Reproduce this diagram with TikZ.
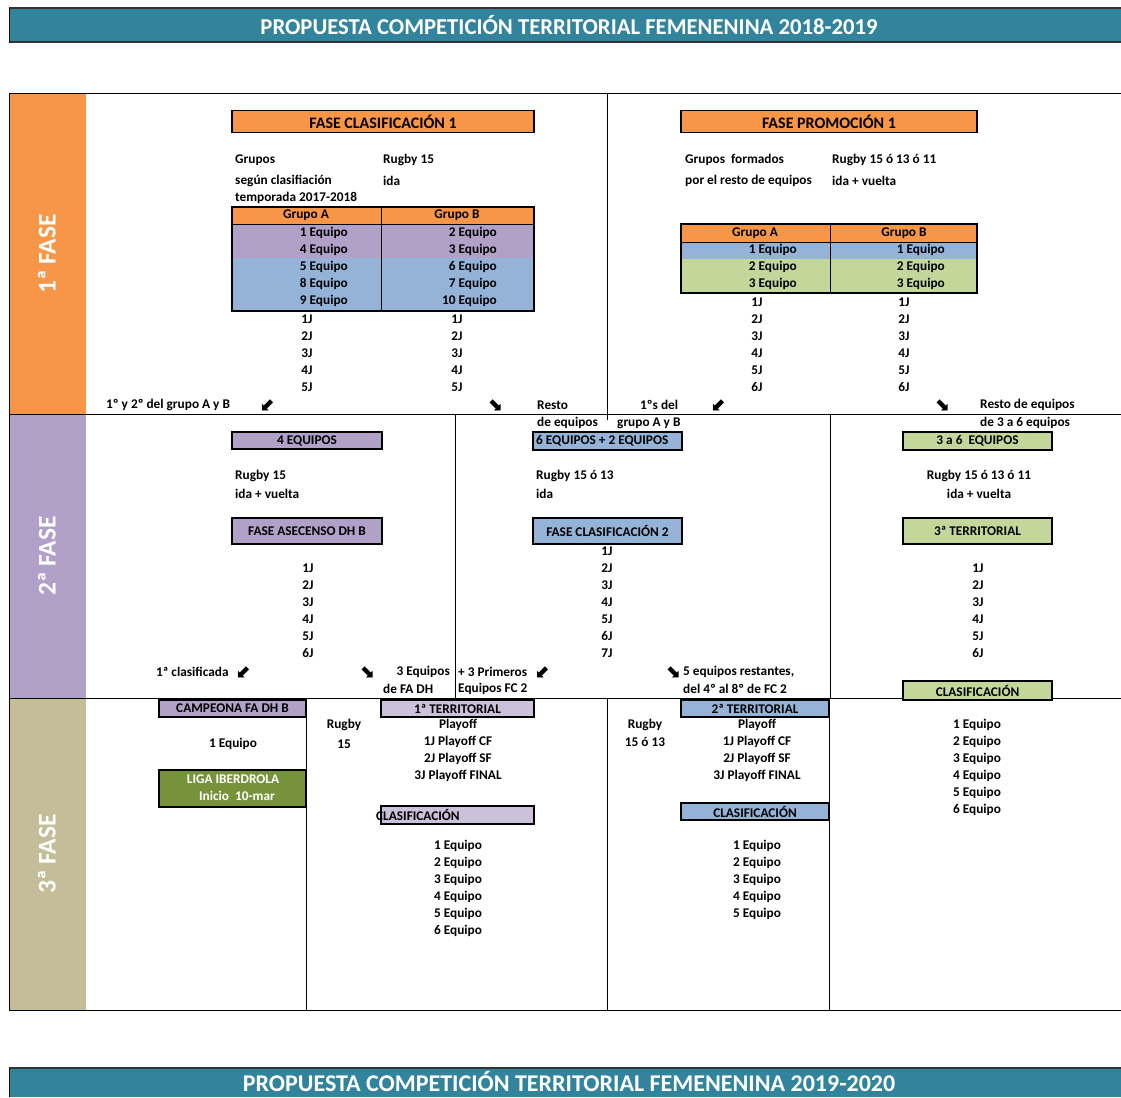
\documentclass[tikz,border=0pt]{standalone}
\usepackage{fontspec}
\setmainfont{Carlito}
\newfontfamily\arrowfont{DejaVu Sans}
\usetikzlibrary{positioning}

\definecolor{titteal}{HTML}{31849B}
\definecolor{naranja}{HTML}{F79646}
\definecolor{morado}{HTML}{B1A0C7}
\definecolor{lila}{HTML}{CCC0DA}
\definecolor{azul}{HTML}{95B3D7}
\definecolor{verde}{HTML}{C4D79B}
\definecolor{oliva}{HTML}{76933C}
\definecolor{tostado}{HTML}{C4BD97}

\tikzset{
  txt/.style={inner sep=0pt,font=\bfseries\fontsize{13.3}{16}\selectfont},
  titulo/.style={inner sep=0pt,text=white,font=\bfseries\fontsize{22.7}{25}\selectfont},
  fase/.style={inner sep=0pt,text=white,rotate=90,font=\bfseries\fontsize{25.5}{27}\selectfont},
  caja/.style={draw=black,line width=1.3pt,inner sep=0pt,font=\bfseries\fontsize{13.3}{16}\selectfont},
  cajagrande/.style={caja,font=\bfseries\fontsize{16}{18}\selectfont},
  flecha/.style={inner sep=0pt,font=\arrowfont\bfseries\fontsize{18}{18}\selectfont},
  linea/.style={line width=1pt}
}

\begin{document}
\begin{tikzpicture}[x=1pt,y=-1pt]
    \useasboundingbox (0,0) rectangle (1121,1097);

    % titles
    \fill[titteal] (9,8) rectangle (1121,43);
    \draw[line width=2pt,black!80] (9,8) -- (1121,8);
    \draw[line width=1.5pt,black!80] (9,42) -- (1121,42);
    \draw[linea] (9,8) -- (9,43);
    \node[titulo] (tit1) at (569,25) {PROPUESTA COMPETICIÓN TERRITORIAL FEMENENINA 2018-2019};

    \fill[titteal] (9,1068) rectangle (1121,1097);
    \draw[line width=2pt,black!80] (9,1068) -- (1121,1068);
    \draw[linea] (9,1068) -- (9,1097);
    \node[titulo,font=\bfseries\fontsize{24}{26}\selectfont] (tit2) at (569,1081.5) {PROPUESTA COMPETICIÓN TERRITORIAL FEMENENINA 2019-2020};

    % phase bands and frame
    \fill[naranja] (9,94) rectangle (86,414);
    \fill[morado] (9,414) rectangle (86,698);
    \fill[tostado] (9,698) rectangle (86,1010);
    \node[fase] (f1) at (47,254) {1ª FASE};
    \node[fase] (f2) at (47,556) {2ª FASE};
    \node[fase] (f3) at (47,854) {3ª FASE};

    \draw[linea]
      (9,94) -- (1121,94)
      (9,414) -- (1121,414)
      (9,698) -- (1121,698)
      (9,1010) -- (1121,1010)
      (9,94) -- (9,1010);
    \draw[linea] (607,94) -- (607,420);
    \draw[linea] (455,414) -- (455,698);
    \draw[linea] (830,414) -- (830,698);
    \draw[linea] (306,698) -- (306,1010);
    \draw[linea] (607,698) -- (607,1010);
    \draw[linea] (829,698) -- (829,1010);

    % 1a fase, clasificacion
    \node[cajagrande,fill=naranja,minimum width=302pt,minimum height=22pt] (fc1) at (383,121.5) {FASE CLASIFICACIÓN 1};
    \node[txt,anchor=west] (gr1) at (235,160) {Grupos};
    \node[txt,anchor=west] (gr2) at (235,181) {según clasifiación};
    \node[txt,anchor=west] (gr3) at (235,198) {temporada 2017-2018};
    \node[txt,anchor=west] (rg1) at (383,160) {Rugby 15};
    \node[txt,anchor=west] (rg2) at (383,181) {ida};

    \fill[naranja] (232,207) rectangle (534,224);
    \fill[morado] (232,224) rectangle (534,258);
    \fill[azul] (232,258) rectangle (534,311);
    \draw[line width=1.3pt] (232,207) rectangle (534,311);
    \draw[linea] (232,224) -- (534,224) (381,207) -- (381,311);
    \node[txt] (ga1) at (306,215.5) {Grupo A};
    \node[txt] (gb1) at (457,215.5) {Grupo B};
    \foreach \a/\b [count=\i] in {1/2,4/3,5/6,8/7,9/10} {
      \node[txt,anchor=east] (ea\i) at (348,216+17*\i) {\a\ Equipo};
      \node[txt,anchor=east] (eb\i) at (497,216+17*\i) {\b\ Equipo};
    }
    \foreach \j in {1,...,5} {
      \node[txt] (ja\j) at (307,302+17*\j) {\j J};
      \node[txt] (jb\j) at (457,302+17*\j) {\j J};
    }
    \node[txt,anchor=west] (pri) at (106,405) {1º y 2º del grupo A y B};
    \node[flecha] (fl1) at (268,405) {⬋};
    \node[flecha] (fl2) at (495,405) {⬊};
    \node[txt,anchor=west] (res1) at (537,405) {Resto};
    \node[txt,anchor=west] (res2) at (537,423) {de equipos};

    % 1a fase, promocion
    \node[cajagrande,fill=naranja,minimum width=296pt,minimum height=22pt] (fp1) at (829,121.5) {FASE PROMOCIÓN 1};
    \node[txt,anchor=west] (gf1) at (685,160) {Grupos\ \ formados};
    \node[txt,anchor=west] (gf2) at (685,181) {por el resto de equipos};
    \node[txt,anchor=west] (rp1) at (832,160) {Rugby 15 ó 13 ó 11};
    \node[txt,anchor=west] (rp2) at (832,181) {ida + vuelta};

    \fill[naranja] (681,224) rectangle (977,242);
    \fill[azul] (681,242) rectangle (977,259);
    \fill[verde] (681,259) rectangle (977,293);
    \draw[line width=1.3pt] (681,224) rectangle (977,293);
    \draw[linea] (681,242) -- (977,242) (830,224) -- (830,293);
    \node[txt] (ga2) at (755,233) {Grupo A};
    \node[txt] (gb2) at (904,233) {Grupo B};
    \foreach \i in {1,2,3} {
      \node[txt,anchor=east] (pa\i) at (797,233+17*\i) {\i\ Equipo};
      \node[txt,anchor=east] (pb\i) at (945,233+17*\i) {\i\ Equipo};
    }
    \foreach \j in {1,...,6} {
      \node[txt] (ka\j) at (757,285+17*\j) {\j J};
      \node[txt] (kb\j) at (904,285+17*\j) {\j J};
    }
    \node[txt,anchor=west] (pdel) at (640,405) {1ºs del};
    \node[txt,anchor=west] (pgr) at (617,423) {grupo A y B};
    \node[flecha] (fl3) at (719,405) {⬋};
    \node[flecha] (fl4) at (942,405) {⬊};
    \node[txt,anchor=west] (res3) at (980,405) {Resto de equipos};
    \node[txt,anchor=west] (res4) at (980,423) {de 3 a 6 equipos};

    % 2a fase
    \node[caja,fill=morado,minimum width=150pt,minimum height=17pt] (eq4) at (307,440.5) {4 EQUIPOS};
    \node[txt,anchor=west] (r15) at (235,476) {Rugby 15};
    \node[txt,anchor=west] (iv1) at (235,494) {ida + vuelta};
    \node[caja,fill=morado,minimum width=150pt,minimum height=26pt] (asc) at (307,531) {FASE ASECENSO DH B};
    \foreach \j in {1,...,6}
      \node[txt] (la\j) at (308,551+17*\j) {\j J};
    \node[txt,anchor=west] (cla) at (156,672) {1ª clasificada};
    \node[flecha] (fl5) at (244,672) {⬋};
    \node[flecha] (fl6) at (367,672) {⬊};
    \node[txt,anchor=east] (tre) at (450,672) {3 Equipos};
    \node[txt,anchor=west] (fadh) at (383,689) {de FA DH};

    \node[caja,fill=azul,minimum width=149pt,minimum height=18pt] (eq62) at (607.5,441) {};
    \node[txt,anchor=west] (eq62t) at (536,441) {6 EQUIPOS + 2 EQUIPOS};
    \node[txt,anchor=west] (r1513) at (536,476) {Rugby 15 ó 13};
    \node[txt,anchor=west] (ida2) at (536,494) {ida};
    \node[caja,fill=azul,minimum width=149pt,minimum height=26pt] (fc2) at (607.5,531) {FASE CLASIFICACIÓN 2};
    \foreach \j in {1,...,7}
      \node[txt] (lb\j) at (607,534+17*\j) {\j J};
    \node[txt,anchor=west] (prim) at (458,672) {+ 3 Primeros};
    \node[txt,anchor=west] (efc) at (458,689) {Equipos FC 2};
    \node[flecha] (fl7) at (543,672) {⬋};
    \node[flecha] (fl8) at (673,672) {⬊};
    \node[txt,anchor=west] (rest) at (683,672) {5 equipos restantes,};
    \node[txt,anchor=west] (del) at (683,689) {del 4º al 8º de FC 2};

    \node[caja,fill=verde,minimum width=149pt,minimum height=18pt] (eq36) at (977.5,441) {3 a 6\ \ EQUIPOS};
    \node[txt] (r1511) at (979,476) {Rugby 15 ó 13 ó 11};
    \node[txt] (iv3) at (979,494) {ida + vuelta};
    \node[caja,fill=verde,minimum width=149pt,minimum height=26pt] (ter3) at (977.5,531) {3ª TERRITORIAL};
    \foreach \j in {1,...,6}
      \node[txt] (lc\j) at (978,551+17*\j) {\j J};
    \node[caja,fill=verde,minimum width=149pt,minimum height=19pt] (cl3) at (977.5,690.5) {CLASIFICACIÓN};
    \foreach \i in {1,...,6}
      \node[txt] (ec\i) at (977,708+17*\i) {\i\ Equipo};

    % 3a fase
    \node[caja,fill=morado,minimum width=147pt,minimum height=17pt] (camp) at (232.5,708.5) {CAMPEONA FA DH B};
    \node[txt] (uno) at (233,744) {1 Equipo};
    \node[caja,fill=oliva,minimum width=147pt,minimum height=37pt] (liga) at (232.5,788.5) {};
    \node[txt,text=white] (liga1) at (233,779) {LIGA IBERDROLA};
    \node[txt,text=white] (liga2) at (237,796) {Inicio\ \ 10-mar};

    \node[txt] (rug1) at (344,725) {Rugby};
    \node[txt] (rug2) at (344,744) {15};
    \node[caja,fill=lila,minimum width=153pt,minimum height=17pt] (ter1) at (457.5,708.5) {1ª TERRITORIAL};
    \foreach \t [count=\i] in {Playoff,1J Playoff CF,2J Playoff SF,3J Playoff FINAL}
      \node[txt] (po\i) at (458,708+17*\i) {\t};
    \node[caja,fill=lila,minimum width=153pt,minimum height=18pt] (cl1) at (457.5,815) {};
    \node[txt,anchor=west] (cl1t) at (376,815) {CLASIFICACIÓN};
    \foreach \i in {1,...,6}
      \node[txt] (ed\i) at (458,829+17*\i) {\i\ Equipo};

    \node[txt] (rug3) at (645,725) {Rugby};
    \node[txt] (rug4) at (645,742) {15 ó 13};
    \node[caja,fill=azul,minimum width=148pt,minimum height=17pt] (ter2) at (755,708.5) {2ª TERRITORIAL};
    \foreach \t [count=\i] in {Playoff,1J Playoff CF,2J Playoff SF,3J Playoff FINAL}
      \node[txt] (pq\i) at (757,708+17*\i) {\t};
    \node[caja,fill=azul,minimum width=148pt,minimum height=17pt] (cl2) at (755,811.5) {CLASIFICACIÓN};
    \foreach \i in {1,...,5}
      \node[txt] (ee\i) at (757,829+17*\i) {\i\ Equipo};
  \end{tikzpicture}
\end{document}
